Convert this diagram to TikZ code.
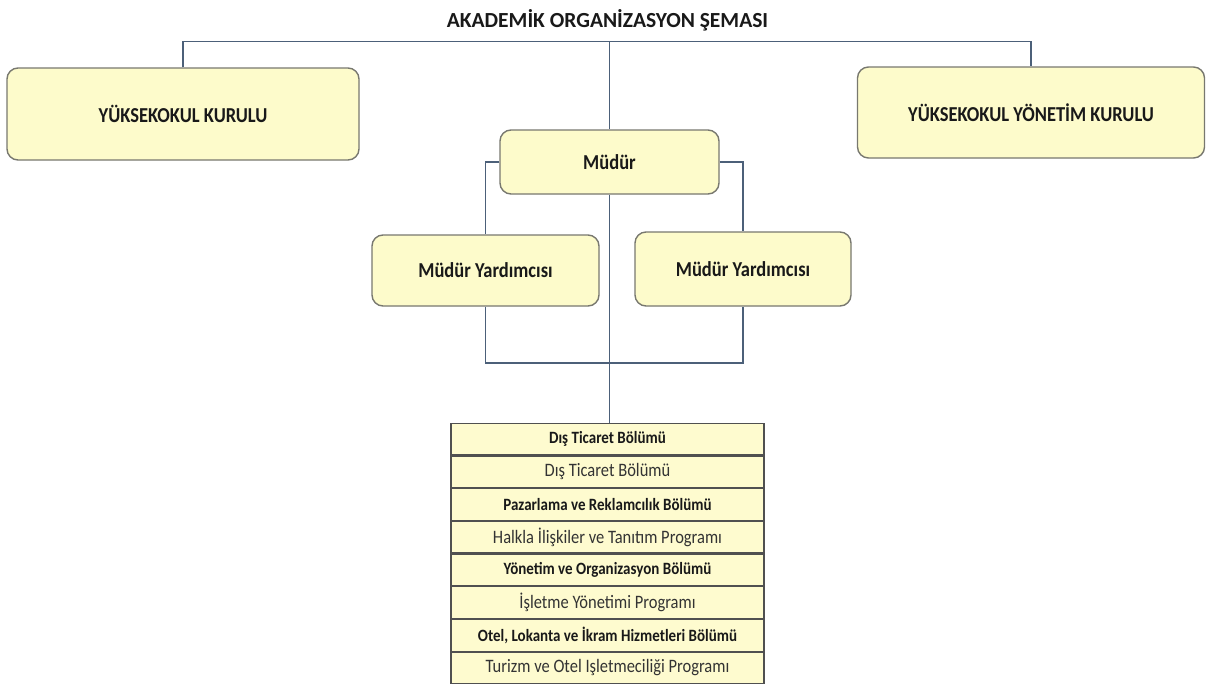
\documentclass[tikz,border=0pt]{standalone}
\usepackage{graphicx}
\usepackage{fontspec}
\setmainfont{Carlito}
\definecolor{boxfill}{HTML}{FDFBCB}
\definecolor{boxedge}{HTML}{78786F}
\definecolor{linecol}{HTML}{4C6079}
\definecolor{rowfill}{HTML}{FEFBCF}
\definecolor{rowedge}{HTML}{505050}
\newcommand{\tallt}[1]{\scalebox{1}[1.15]{#1}}
\tikzset{
  orgbox/.style={draw=boxedge, fill=boxfill, rounded corners=11pt, line width=1.4pt, font=\bfseries\fontsize{18.5}{20}\selectfont, text=black!90},
  conn/.style={draw=linecol, line width=1.8pt},
  rowb/.style={draw=rowedge, fill=rowfill, line width=1.1pt, minimum width=313pt, minimum height=31.6pt, inner sep=0pt, font=\bfseries\fontsize{15}{16}\selectfont, text=black!90},
  rowp/.style={rowb, font=\fontsize{16.5}{17}\selectfont, text=black!80},
}
\begin{document}
\begin{tikzpicture}[x=1pt,y=-1pt]
\useasboundingbox[fill=white] (0,0) rectangle (1206,683);
\node[font=\bfseries\fontsize{21.5}{23}\selectfont, text=black!90] (title) at (607.5,20) {AKADEMİK ORGANİZASYON ŞEMASI};
\node[orgbox, minimum width=352pt, minimum height=92pt] (yk) at (183,114) {\tallt{YÜKSEKOKUL KURULU}};
\node[orgbox, minimum width=347pt, minimum height=91pt] (yyk) at (1031,112.5) {\tallt{YÜKSEKOKUL YÖNETİM KURULU}};
\node[orgbox, minimum width=219pt, minimum height=64pt] (mudur) at (609.5,162) {\tallt{Müdür}};
\node[orgbox, minimum width=227pt, minimum height=71pt] (my1) at (485.5,270.5) {\tallt{Müdür Yardımcısı}};
\node[orgbox, minimum width=216pt, minimum height=74pt] (my2) at (743,269) {\tallt{Müdür Yardımcısı}};
\node[rowb] (r1) at (607.5,439.1) {\tallt{Dış Ticaret Bölümü}};
\node[rowp, anchor=north] (r2) at (r1.south) {\tallt{Dış Ticaret Bölümü}};
\node[rowb, anchor=north] (r3) at (r2.south) {\tallt{Pazarlama ve Reklamcılık Bölümü}};
\node[rowp, anchor=north] (r4) at (r3.south) {\tallt{Halkla İlişkiler ve Tanıtım Programı}};
\node[rowb, anchor=north] (r5) at (r4.south) {\tallt{Yönetim ve Organizasyon Bölümü}};
\node[rowp, anchor=north] (r6) at (r5.south) {\tallt{İşletme Yönetimi Programı}};
\node[rowb, anchor=north] (r7) at (r6.south) {\tallt{Otel, Lokanta ve İkram Hizmetleri Bölümü}};
\node[rowp, anchor=north] (r8) at (r7.south) {\tallt{Turizm ve Otel Işletmeciliği Programı}};
\coordinate (hub) at (609.5,41.5);
\coordinate (bot) at (609.5,363);
\draw[conn] (yk.north) |- (hub) -| (yyk.north);
\draw[conn] (hub) -- (mudur.north);
\draw[conn] (mudur.west) -| (my1.north);
\draw[conn] (mudur.east) -| (my2.north);
\draw[conn] (my1.south) |- (bot) -| (my2.south);
\draw[conn] (mudur.south) -- (mudur.south |- r1.north);
\end{tikzpicture}
\end{document}
